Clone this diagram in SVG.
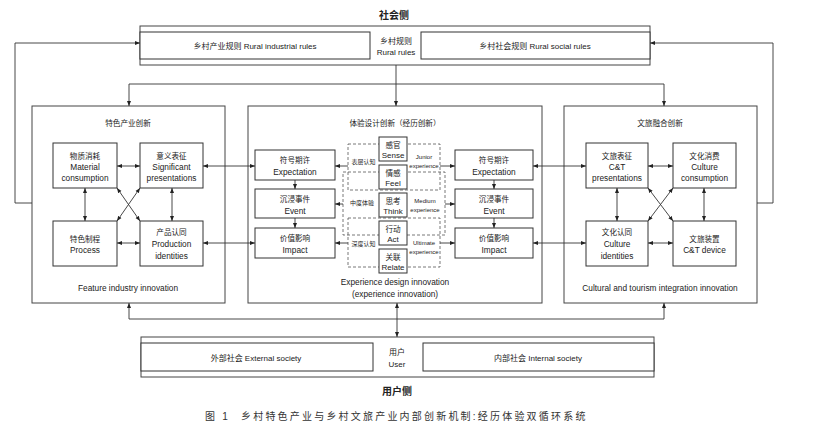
<svg xmlns="http://www.w3.org/2000/svg" width="820" height="424" viewBox="0 0 820 424">
<style>
text{font-family:"Liberation Sans","Noto Sans CJK SC",sans-serif;fill:#222;text-anchor:middle}
.t8{font-size:8px}
.t85{font-size:8.3px}
.cn{font-size:7.6px}
.sm{font-size:6px}
.xs{font-size:6px}
.hd{font-size:10px;font-weight:bold}
.cap{font-size:10px;text-anchor:start;letter-spacing:2.2px;fill:#333}
.frame{fill:#fff;stroke:#444;stroke-width:1}
.box{fill:#fff;stroke:#333;stroke-width:1}
.dash{fill:none;stroke:#555;stroke-width:0.8;stroke-dasharray:3 2}
.ln{fill:none;stroke:#333;stroke-width:0.9}
.a{marker-end:url(#ah)}
.aa{marker-end:url(#ah);marker-start:url(#ah)}
</style>
<defs>
<marker id="ah" viewBox="0 0 10 10" refX="10" refY="5" markerWidth="5" markerHeight="5" markerUnits="userSpaceOnUse" orient="auto-start-reverse">
<path d="M0,1 L10,5 L0,9 z" fill="#222"/>
</marker>
</defs>
<rect width="820" height="424" fill="#fff"/>

<text class="hd" x="394" y="19">社会侧</text>

<g id="rules">
<rect class="frame" x="140" y="26" width="510" height="39"/>
<rect class="box" x="140" y="32" width="230" height="27"/>
<rect class="box" x="421" y="32" width="229" height="27"/>
<text class="t8" x="255" y="49">乡村产业规则 Rural industrial rules</text>
<text class="t8" x="535" y="49">乡村社会规则 Rural social rules</text>
<text class="t8" x="396" y="44">乡村规则</text>
<text class="t8" x="396" y="55">Rural rules</text>
</g>

<g id="user">
<rect class="frame" x="141" y="337" width="513" height="40"/>
<rect class="box" x="141" y="343" width="232" height="28"/>
<rect class="box" x="423" y="343" width="231" height="28"/>
<text class="t8" x="256" y="361">外部社会 External society</text>
<text class="t8" x="538" y="361">内部社会 Internal society</text>
<text class="t8" x="397" y="355">用户</text>
<text class="t8" x="397" y="367">User</text>
</g>
<text class="hd" x="397" y="395">用户侧</text>

<g id="feature">
<rect class="frame" x="32" y="106" width="193" height="197"/>
<text class="cn" x="128" y="126">特色产业创新</text>
<text class="t85" x="128" y="291">Feature industry innovation</text>
<g id="f-material"><rect class="box" x="53" y="143" width="64" height="45"/>
<text class="cn" x="85" y="159">物质消耗</text><text class="t85" x="85" y="170">Material</text><text class="t85" x="85" y="181">consumption</text></g>
<g id="f-significant"><rect class="box" x="140" y="143" width="63" height="45"/>
<text class="cn" x="171.5" y="159">意义表征</text><text class="t85" x="171.5" y="170">Significant</text><text class="t85" x="171.5" y="181">presentations</text></g>
<g id="f-process"><rect class="box" x="53" y="221" width="64" height="45"/>
<text class="cn" x="85" y="242">特色制程</text><text class="t85" x="85" y="253">Process</text></g>
<g id="f-production"><rect class="box" x="140" y="221" width="63" height="45"/>
<text class="cn" x="171.5" y="235">产品认同</text><text class="t85" x="171.5" y="247">Production</text><text class="t85" x="171.5" y="259">identities</text></g>
</g>

<g id="culture">
<rect class="frame" x="564" y="106" width="193" height="197"/>
<text class="cn" x="660" y="126">文旅融合创新</text>
<text class="t85" x="660" y="291">Cultural and tourism integration innovation</text>
<g id="c-presentations"><rect class="box" x="586" y="143" width="62" height="45"/>
<text class="cn" x="617" y="159">文旅表征</text><text class="t85" x="617" y="170">C&amp;T</text><text class="t85" x="617" y="181">presentations</text></g>
<g id="c-consumption"><rect class="box" x="673" y="143" width="63" height="45"/>
<text class="cn" x="704.5" y="159">文化消费</text><text class="t85" x="704.5" y="170">Culture</text><text class="t85" x="704.5" y="181">consumption</text></g>
<g id="c-identities"><rect class="box" x="586" y="221" width="62" height="45"/>
<text class="cn" x="617" y="235">文化认同</text><text class="t85" x="617" y="247">Culture</text><text class="t85" x="617" y="259">identities</text></g>
<g id="c-device"><rect class="box" x="673" y="221" width="63" height="45"/>
<text class="cn" x="704.5" y="242">文旅装置</text><text class="t85" x="704.5" y="253">C&amp;T device</text></g>
</g>

<g id="experience">
<rect class="frame" x="248" y="106" width="294" height="197"/>
<text class="cn" x="395" y="126">体验设计创新（经历创新）</text>
<text class="t85" x="395" y="285">Experience design innovation</text>
<text class="t85" x="395" y="297">(experience innovation)</text>
</g>

<g id="groups">
<rect class="dash" x="348" y="144" width="92" height="46"/>
<rect class="dash" x="343" y="172" width="102" height="63"/>
<rect class="dash" x="348" y="218" width="92" height="49"/>
<text class="sm" x="363.5" y="164">表层认知</text>
<text class="sm" x="362" y="205">中度体验</text>
<text class="sm" x="363.5" y="246">深度认知</text>
<text class="xs" x="424" y="159">Junior</text>
<text class="xs" x="424" y="168">experience</text>
<text class="xs" x="425" y="203">Medium</text>
<text class="xs" x="425" y="212">experience</text>
<text class="xs" x="424" y="245">Ultimate</text>
<text class="xs" x="424" y="254">experience</text>
</g>

<g id="e-sense"><rect class="box" x="379" y="137" width="28" height="24"/><text class="cn" x="393" y="147.5">感官</text><text class="t8" x="393" y="158">Sense</text></g>
<g id="e-feel"><rect class="box" x="379" y="165" width="28" height="24"/><text class="cn" x="393" y="175.5">情感</text><text class="t8" x="393" y="186">Feel</text></g>
<g id="e-think"><rect class="box" x="379" y="193" width="28" height="24"/><text class="cn" x="393" y="203.5">思考</text><text class="t8" x="393" y="214">Think</text></g>
<g id="e-act"><rect class="box" x="379" y="221" width="28" height="24"/><text class="cn" x="393" y="231.5">行动</text><text class="t8" x="393" y="242">Act</text></g>
<g id="e-relate"><rect class="box" x="379" y="249" width="28" height="24"/><text class="cn" x="393" y="259.5">关联</text><text class="t8" x="393" y="270">Relate</text></g>

<g id="l-expectation"><rect class="box" x="255" y="150" width="80" height="30"/><text class="cn" x="295" y="163">符号期许</text><text class="t85" x="295" y="175">Expectation</text></g>
<g id="l-event"><rect class="box" x="255" y="189" width="80" height="29"/><text class="cn" x="295" y="202">沉浸事件</text><text class="t85" x="295" y="214">Event</text></g>
<g id="l-impact"><rect class="box" x="255" y="228" width="80" height="30"/><text class="cn" x="295" y="241">价值影响</text><text class="t85" x="295" y="253">Impact</text></g>
<g id="r-expectation"><rect class="box" x="455" y="150" width="78" height="30"/><text class="cn" x="494" y="163">符号期许</text><text class="t85" x="494" y="175">Expectation</text></g>
<g id="r-event"><rect class="box" x="455" y="189" width="78" height="29"/><text class="cn" x="494" y="202">沉浸事件</text><text class="t85" x="494" y="214">Event</text></g>
<g id="r-impact"><rect class="box" x="455" y="228" width="78" height="30"/><text class="cn" x="494" y="241">价值影响</text><text class="t85" x="494" y="253">Impact</text></g>

<g id="connectors">
<!-- feedback loops -->
<polyline class="ln a" points="32,203 15,203 15,43 140,43"/>
<polyline class="ln a" points="757,203 773,203 773,43 650,43"/>
<!-- top distribution -->
<line class="ln a" x1="396" y1="65" x2="396" y2="106"/>
<line class="ln" x1="129" y1="84" x2="664" y2="84"/>
<line class="ln a" x1="129" y1="84" x2="129" y2="106"/>
<line class="ln a" x1="664" y1="84" x2="664" y2="106"/>
<!-- bottom distribution -->
<line class="ln" x1="129" y1="319" x2="664" y2="319"/>
<line class="ln a" x1="129" y1="319" x2="129" y2="303"/>
<line class="ln a" x1="664" y1="319" x2="664" y2="303"/>
<line class="ln aa" x1="397" y1="303" x2="397" y2="337"/>
<!-- feature box internal -->
<line class="ln aa" x1="117" y1="166" x2="140" y2="166"/>
<line class="ln aa" x1="117" y1="243" x2="140" y2="243"/>
<line class="ln aa" x1="85" y1="188" x2="85" y2="221"/>
<line class="ln aa" x1="172" y1="188" x2="172" y2="221"/>
<line class="ln aa" x1="117" y1="188" x2="140" y2="221"/>
<line class="ln aa" x1="140" y1="188" x2="117" y2="221"/>
<!-- culture box internal -->
<line class="ln aa" x1="648" y1="166" x2="673" y2="166"/>
<line class="ln aa" x1="648" y1="243" x2="673" y2="243"/>
<line class="ln aa" x1="617" y1="188" x2="617" y2="221"/>
<line class="ln aa" x1="704" y1="188" x2="704" y2="221"/>
<line class="ln aa" x1="648" y1="188" x2="673" y2="221"/>
<line class="ln aa" x1="673" y1="188" x2="648" y2="221"/>
<!-- cross-box links -->
<line class="ln aa" x1="203" y1="166" x2="255" y2="166"/>
<line class="ln aa" x1="203" y1="243" x2="255" y2="243"/>
<line class="ln aa" x1="533" y1="166" x2="586" y2="166"/>
<line class="ln aa" x1="533" y1="243" x2="586" y2="243"/>
<!-- columns -->
<line class="ln a" x1="295" y1="180" x2="295" y2="189"/>
<line class="ln a" x1="295" y1="218" x2="295" y2="228"/>
<line class="ln a" x1="494" y1="180" x2="494" y2="189"/>
<line class="ln a" x1="494" y1="218" x2="494" y2="228"/>
<!-- groups to columns -->
<line class="ln a" x1="348" y1="166" x2="335" y2="166"/>
<line class="ln a" x1="343" y1="204" x2="335" y2="204"/>
<line class="ln a" x1="348" y1="243" x2="335" y2="243"/>
<line class="ln a" x1="440" y1="166" x2="455" y2="166"/>
<line class="ln a" x1="445" y1="204" x2="455" y2="204"/>
<line class="ln a" x1="440" y1="243" x2="455" y2="243"/>
</g>

<text class="cap" x="205" y="420">图 1</text>
<text class="cap" x="241" y="420">乡村特色产业与乡村文旅产业内部创新机制:经历体验双循环系统</text>
</svg>
